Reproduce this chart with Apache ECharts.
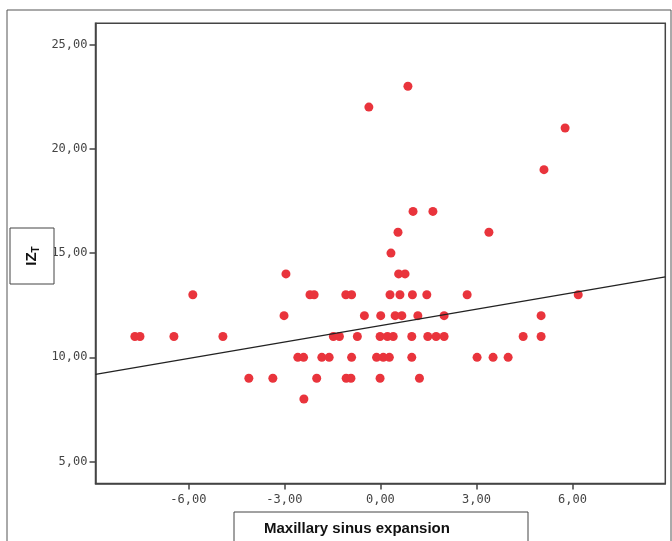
<!DOCTYPE html>
<html>
<head>
<meta charset="utf-8">
<script src="https://cdn.jsdelivr.net/npm/echarts@6/dist/echarts.min.js"></script>
<style>
html,body{margin:0;padding:0;background:#fff;}
#chart{width:672px;height:541px;}
</style>
</head>
<body>
<div id="chart"></div>
<script>
// Maxillary sinus expansion (x) and IZ_T (y) for each observation
const expansion = [
  0.86, -0.36, 5.77, 5.11,
  1.02, 1.64,
  0.55, 3.39,
  0.33,
  -2.95, 0.57, 0.77,
  -5.86, -2.20, -2.07, -1.08, -0.90, 0.30, 0.61, 1.00, 1.45, 2.71, 6.18,
  -3.01, -0.50, 0.01, 0.46, 0.67, 1.17, 1.99, 5.02,
  -7.67, -7.51, -6.45, -4.92, -1.47, -1.28, -0.72, -0.01, 0.22, 0.40, 0.98, 1.48, 1.74, 1.99, 4.46, 5.02,
  -2.58, -2.40, -1.83, -1.60, -0.90, -0.12, 0.09, 0.28, 0.98, 3.02, 3.52, 3.99,
  -4.11, -3.36, -1.99, -1.07, -0.92, -0.01, 1.22,
  -2.39
];
const izt = [
  23, 22, 21, 19,
  17, 17,
  16, 16,
  15,
  14, 14, 14,
  13, 13, 13, 13, 13, 13, 13, 13, 13, 13, 13,
  12, 12, 12, 12, 12, 12, 12, 12,
  11, 11, 11, 11, 11, 11, 11, 11, 11, 11, 11, 11, 11, 11, 11, 11,
  10, 10, 10, 10, 10, 10, 10, 10, 10, 10, 10, 10,
  9, 9, 9, 9, 9, 9, 9,
  8
];
// Fit line end points
const fitX = [-8.9, 8.9];
const fitY = [9.18, 13.86];
// Tick labels
const xTicks = [-6, -3, 0, 3, 6];
const yTicks = [5, 10, 15, 20, 25];
const xTitle = 'Maxillary sinus expansion';

const points = expansion.map((x, i) => [x, izt[i]]);
const linePts = fitX.map((x, i) => [x, fitY[i]]);
const fmt = v => v.toFixed(2).replace('.', ',');

const chart = echarts.init(document.getElementById('chart'), null, {renderer: 'canvas'});
const labelFont = {fontFamily: 'DejaVu Sans Mono', fontSize: 12, color: '#444'};
chart.setOption({
  animation: false,
  backgroundColor: '#fff',
  grid: {left: 95.5, right: 6.7, top: 23.3, bottom: 57.5, show: true, borderColor: '#444', borderWidth: 1.5, backgroundColor: 'transparent'},
  xAxis: {
    type: 'value', min: -8.9, max: 8.9,
    splitLine: {show: false},
    axisLine: {show: true, onZero: false, lineStyle: {color: '#444', width: 1.5}},
    axisTick: {show: true, length: 6, customValues: xTicks, lineStyle: {color: '#444', width: 1.5}},
    axisLabel: Object.assign({margin: 10, customValues: xTicks, formatter: fmt}, labelFont)
  },
  yAxis: {
    type: 'value', min: 3.95, max: 26.02,
    splitLine: {show: false},
    axisLine: {show: true, onZero: false, lineStyle: {color: '#444', width: 1.5}},
    axisTick: {show: true, length: 6, customValues: yTicks, lineStyle: {color: '#444', width: 1.5}},
    axisLabel: Object.assign({margin: 8, customValues: yTicks, formatter: fmt}, labelFont)
  },
  series: [
    {
      type: 'line', data: linePts, symbol: 'none', silent: true,
      lineStyle: {color: '#222', width: 1.3}, z: 3
    },
    {
      type: 'scatter', data: points, symbol: 'circle', symbolSize: 9,
      itemStyle: {color: '#e9343c', opacity: 1}, z: 2
    }
  ],
  graphic: [
    {type: 'rect', shape: {x: 7, y: 10, width: 664, height: 560}, style: {fill: 'none', stroke: '#555', lineWidth: 1}, z: -10, silent: true},
    {type: 'rect', shape: {x: 10, y: 228, width: 44, height: 56}, style: {fill: '#fff', stroke: '#444', lineWidth: 1}, z: 10},
    {type: 'text', x: 32, y: 256, rotation: Math.PI / 2, z: 11,
      style: {text: '{a|IZ}{b|T}', align: 'center', verticalAlign: 'middle',
        rich: {a: {fontFamily: 'Liberation Sans', fontWeight: 'bold', fontSize: 15, fill: '#111'},
               b: {fontFamily: 'Liberation Sans', fontWeight: 'bold', fontSize: 10, fill: '#111', padding: [8, 0, 0, 0]}}}},
    {type: 'rect', shape: {x: 234, y: 512, width: 294, height: 40}, style: {fill: '#fff', stroke: '#444', lineWidth: 1}, z: 10},
    {type: 'text', x: 264, y: 529, z: 11,
      style: {text: xTitle, align: 'left', verticalAlign: 'middle', fontFamily: 'Liberation Sans Narrow, Liberation Sans', fontWeight: 'bold', fontSize: 15, fill: '#111'}}
  ]
});
</script>
</body>
</html>
